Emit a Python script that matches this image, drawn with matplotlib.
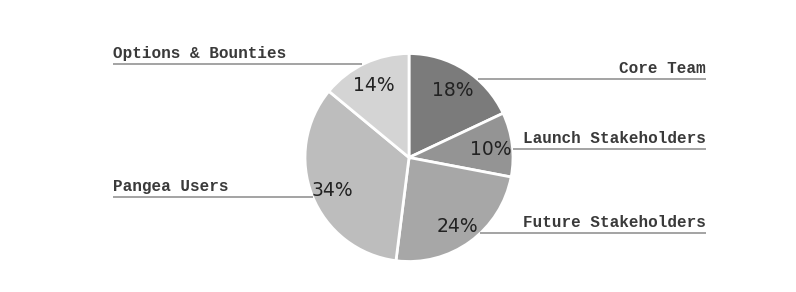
import matplotlib
matplotlib.use("Agg")
import matplotlib.pyplot as plt
import numpy as np

labels = ["Core Team", "Launch Stakeholders", "Future Stakeholders", "Pangea Users", "Options & Bounties"]
values = [18, 10, 24, 34, 14]
colors = ["#7b7b7b", "#949494", "#a7a7a7", "#bdbdbd", "#d4d4d4"]

# layout: label line heights (in pie-radius units) and sides
label_y = [0.75, 0.08, -0.73, -0.385, 0.894]
label_side = [1, 1, 1, -1, -1]

fig = plt.figure(figsize=(7.96, 2.92), dpi=100)
ax = fig.add_axes([0, 0, 1, 1])

wedges, texts, autotexts = ax.pie(
    values, colors=colors, startangle=90, counterclock=False,
    autopct="%d%%", pctdistance=0.79, radius=1.0, center=(0, -0.005),
    wedgeprops=dict(edgecolor="white", linewidth=2),
    textprops=dict(fontsize=13.5, color="#222222", family="DejaVu Sans"),
)
for t in autotexts:
    x, y = t.get_position()
    t.set_position((x, y - 0.025))

xr = (706 - 409) / 104
xl = (113 - 409) / 104
for lab, y, side in zip(labels, label_y, label_side):
    xe = side * np.sqrt(max(0.0, 1 - y * y))
    xend = xr if side > 0 else xl
    ax.plot([xe, xend], [y, y], color="#8a8a8a", lw=1.1, solid_capstyle="butt")
    ax.text(xend, y + 0.03, lab, ha="right" if side > 0 else "left", va="bottom",
            fontsize=11.5, family="Liberation Mono", fontweight="bold", color="#3a3a3a")

ax.set_aspect("auto")
ax.set_xlim(-409 / 104, (796 - 409) / 104)
ax.set_ylim(-(292 - 157) / 104, 157 / 104)
ax.axis("off")

fig.savefig("out.png", dpi=100, facecolor="white")
